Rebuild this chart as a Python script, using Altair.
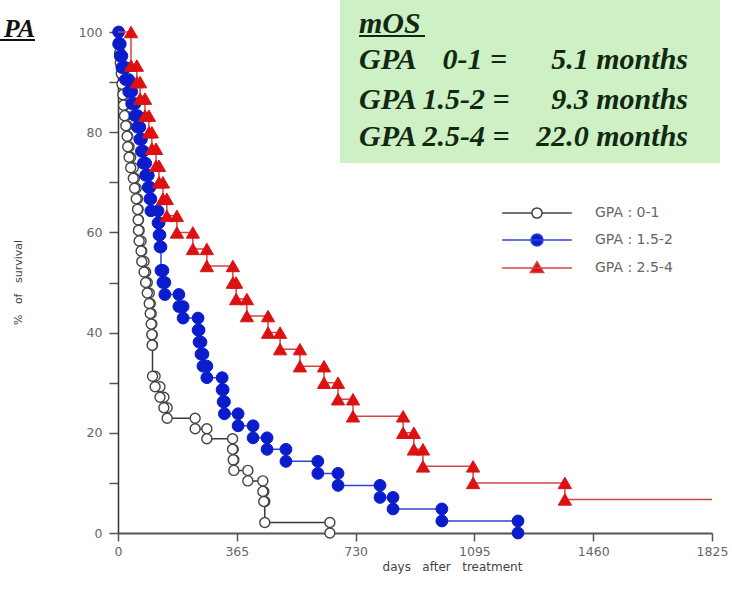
import altair as alt
import pandas as pd

# Kaplan-Meier events per GPA class: day of each death and survival (%) just after it
gpa01_days = [2, 5, 7, 10, 12, 15, 17, 20, 24, 28, 30, 34, 39, 47, 51, 56, 60, 62, 63, 65,
              71, 73, 80, 85, 90, 96, 99, 102, 104, 105, 106, 114, 129, 141, 151, 237, 273,
              352, 354, 356, 399, 445, 448, 451, 651]
gpa01_surv = [97.9, 95.8, 93.8, 91.7, 89.6, 87.5, 85.4, 83.3, 81.3, 79.2, 77.1, 75.0, 72.9,
              70.8, 68.8, 66.7, 64.6, 62.5, 60.4, 58.3, 56.3, 54.2, 52.1, 50.0, 47.9, 45.8,
              43.8, 41.7, 39.6, 37.5, 31.3, 29.2, 27.1, 25.0, 22.9, 20.8, 18.8, 16.7, 14.6,
              12.5, 10.4, 8.3, 6.3, 2.1, 0.0]

gpa152_days = [2, 7, 12, 23, 33, 42, 52, 60, 67, 72, 78, 85, 93, 98, 101, 123, 126, 129, 132,
               138, 144, 187, 200, 246, 249, 255, 261, 273, 320, 323, 327, 369, 415, 458, 516,
               614, 676, 805, 845, 995, 1229]
gpa152_surv = [97.6, 95.2, 92.9, 90.5, 88.1, 85.7, 83.3, 81.0, 78.6, 76.2, 73.8, 71.4, 69.0,
               66.7, 64.3, 61.9, 59.5, 57.1, 52.4, 50.0, 47.6, 45.2, 42.9, 40.5, 38.1, 35.7,
               33.3, 31.0, 28.6, 26.2, 23.8, 21.4, 19.0, 16.7, 14.3, 11.9, 9.5, 7.1, 4.8, 2.4,
               0.0]

gpa254_days = [40, 58, 68, 83, 95, 104, 117, 126, 138, 150, 181, 230, 273, 353, 363, 396, 461,
               498, 559, 633, 676, 722, 876, 909, 937, 1091, 1373]
gpa254_surv = [93.3, 90.0, 86.7, 83.3, 80.0, 76.7, 73.3, 70.0, 66.7, 63.3, 60.0, 56.7, 53.3,
               50.0, 46.7, 43.3, 40.0, 36.7, 33.3, 30.0, 26.7, 23.3, 20.0, 16.7, 13.3, 10.0, 6.7]
gpa254_followup_end = 1825

groups = ["GPA : 0-1", "GPA : 1.5-2", "GPA : 2.5-4"]
x_ticks = [0, 365, 730, 1095, 1460, 1825]
y_ticks = [0, 10, 20, 30, 40, 50, 60, 70, 80, 90, 100]

mos_lines = ["GPA", "0-1 =", "5.1 months",
             "GPA 1.5-2 =", "9.3 months",
             "GPA 2.5-4 =", "22.0 months"]


def step_table(days, surv, end=None):
    rows = [(0, 100.0)] + list(zip(days, surv))
    if end is not None:
        rows.append((end, surv[-1]))
    return pd.DataFrame(rows, columns=["day", "surv"])


def marker_table(days, surv, group):
    before = [100.0] + list(surv[:-1])
    return pd.DataFrame({"day": list(days) * 2,
                         "surv": before + list(surv),
                         "group": group})


AXIS_FONT = "DejaVu Sans"
SERIF = "Liberation Serif"

x_enc = alt.X("day:Q",
              scale=alt.Scale(domain=[0, 1825], nice=False, zero=False),
              axis=alt.Axis(values=x_ticks, format="d",
                            title="days\u00a0\u00a0\u00a0after\u00a0\u00a0\u00a0treatment",
                            titleX=334, titleY=33, titleAlign="center", titleBaseline="middle",
                            titleFont=AXIS_FONT, titleFontSize=12, titleFontWeight="normal",
                            titleColor="#444", labelFont=AXIS_FONT, labelFontSize=12.5,
                            labelColor="#666", labelPadding=4, labelFlush=False,
                            tickSize=8, tickColor="#555", tickWidth=1.5,
                            domainColor="#555", domainWidth=2, grid=False))
y_enc = alt.Y("surv:Q",
              scale=alt.Scale(domain=[0, 100], nice=False),
              axis=alt.Axis(values=y_ticks,
                            labelExpr="datum.value % 20 === 0 ? datum.label : ''",
                            title="%\u00a0\u00a0\u00a0of\u00a0\u00a0\u00a0survival",
                            titleX=-100, titleY=250, titleAngle=270, titleAlign="center",
                            titleBaseline="middle", titleFont=AXIS_FONT, titleFontSize=11,
                            titleFontWeight="normal", titleColor="#444",
                            labelFont=AXIS_FONT, labelFontSize=12.5, labelColor="#666",
                            labelPadding=7, tickSize=9, tickColor="#555", tickWidth=1.5,
                            domainColor="#333", domainWidth=1.5, grid=False))

series = [
    (gpa01_days, gpa01_surv, None, groups[0], "#3a3a3a",
     dict(shape="circle", fill="white", stroke="#444", strokeWidth=1.4, size=100)),
    (gpa152_days, gpa152_surv, None, groups[1], "#2f45d0",
     dict(shape="circle", fill="#0a1ccc", stroke="#0a1ccc", strokeWidth=1, size=140)),
    (gpa254_days, gpa254_surv, gpa254_followup_end, groups[2], "#d04545",
     dict(shape="triangle-up", fill="#dd1111", stroke="#dd1111", strokeWidth=1, size=175)),
]

layers = []
one_row = pd.DataFrame({"k": [0]})

# green box with median overall survival
layers.append(alt.Chart(one_row).mark_rect(color="#cdf1c5").encode(
    x=alt.value(222), x2=alt.value(602), y=alt.value(-40), y2=alt.value(131)))

all_points = []
for days, surv, end, name, line_col, mk in series:
    steps = step_table(days, surv, end)
    pts = marker_table(days, surv, name)
    all_points.append(pts)
    layers.append(alt.Chart(steps).mark_line(interpolate="step-after", color=line_col,
                                             strokeWidth=1.5).encode(x=x_enc, y=y_enc))
    layers.append(alt.Chart(pts).mark_point(filled=True, opacity=1, **mk).encode(x=x_enc, y=y_enc))

# legend: line stub with marker, drawn from the shape scale
leg = alt.Legend(title=None, orient="none", legendX=412, legendY=174, direction="vertical",
                 symbolSize=144, symbolStrokeWidth=1.5, symbolOpacity=1,
                 labelFont=AXIS_FONT, labelFontSize=14, labelColor="#666",
                 labelOffset=51, rowPadding=9, padding=0)
leg_paths = [
    "M-5.8,0H-0.85M0.85,0H5.8M-0.85,0A0.85,0.85,0,1,0,0.85,0A0.85,0.85,0,1,0,-0.85,0Z",
    "M-5.8,0H5.8M-1,0A1,1,0,1,0,1,0A1,1,0,1,0,-1,0Z",
    "M-5.8,0H5.8M0,-1.05L1.1,0.75L-1.1,0.75Z",
]
legend_layer = alt.Chart(pd.concat(all_points)).transform_filter("false").mark_point(
    filled=True, opacity=1).encode(
    x=x_enc, y=y_enc,
    stroke=alt.Stroke("group:N", scale=alt.Scale(domain=groups, range=["#444", "#2f45d0", "#d04545"]), legend=leg),
    fill=alt.Fill("group:N", scale=alt.Scale(domain=groups, range=["white", "#0a1ccc", "#dd1111"]), legend=leg),
    shape=alt.Shape("group:N", scale=alt.Scale(domain=groups, range=leg_paths), legend=leg),
)
layers.append(legend_layer)


def label(text, x, y, align="left", size=30, color="#122812"):
    return alt.Chart(one_row).mark_text(text=text, align=align, baseline="alphabetic",
                                        font=SERIF, fontSize=size, fontStyle="italic",
                                        fontWeight="bold", color=color).encode(
        x=alt.value(x), y=alt.value(y))


def underline(x1, x2, y, color):
    return alt.Chart(one_row).mark_rule(color=color, strokeWidth=2).encode(
        x=alt.value(x1), x2=alt.value(x2), y=alt.value(y))


layers += [
    label("mOS", 241, 1),
    underline(241, 307, 4, "#122812"),
    label(mos_lines[0], 241, 37),
    label(mos_lines[1], 389, 37, align="right"),
    label(mos_lines[2], 570, 37, align="right"),
    label(mos_lines[3], 241, 77),
    label(mos_lines[4], 570, 77, align="right"),
    label(mos_lines[5], 241, 114),
    label(mos_lines[6], 570, 114, align="right"),
    label("PA", -83, 5, align="right", size=26, color="#111"),
    underline(-118, -83, 8, "#111"),
]

chart = alt.layer(*layers).properties(
    width=594, height=501,
    autosize=alt.AutoSizeParams(type="none"),
    padding={"left": 118, "top": 32, "right": 20, "bottom": 67},
    background="white",
).configure_view(strokeWidth=0)

chart.save("out.html", embed_options={"renderer": "svg", "actions": False})
